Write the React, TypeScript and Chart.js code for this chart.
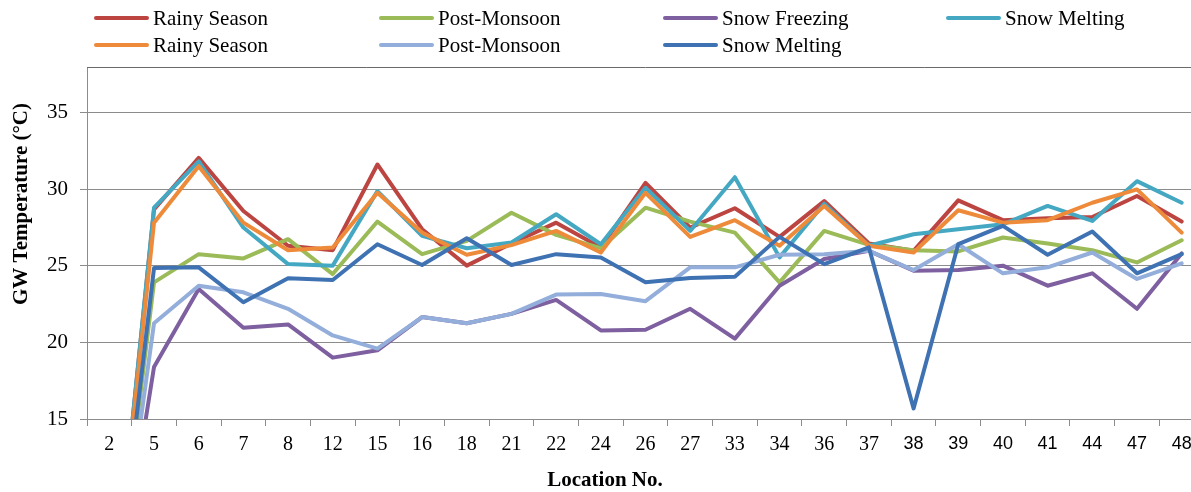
import React, { useEffect, useRef } from 'react';
import { Chart, registerables } from 'chart.js';

Chart.register(...registerables);

// Categories (location numbers)
const locations = ['2', '5', '6', '7', '8', '12', '15', '16', '18', '21', '22', '24', '26', '27', '33', '34', '36', '37', '38', '39', '40', '41', '44', '47', '48'];

// Series values (°C)
const rainySeasonA = [0, 28.7, 32.06, 28.59, 26.32, 26.03, 31.63, 27.4, 25.02, 26.47, 27.83, 26.21, 30.43, 27.51, 28.77, 26.9, 29.24, 26.47, 25.99, 29.29, 27.99, 28.12, 28.2, 29.57, 27.9];
const postMonsoonA = [0, 23.93, 25.77, 25.49, 26.75, 24.47, 27.9, 25.77, 26.64, 28.48, 27.03, 26.16, 28.81, 27.9, 27.18, 23.93, 27.29, 26.38, 26.03, 25.95, 26.86, 26.47, 26.03, 25.23, 26.68];
const snowFreezing = [0, 18.4, 23.5, 20.96, 21.18, 19.01, 19.49, 21.66, 21.26, 21.87, 22.78, 20.79, 20.83, 22.2, 20.25, 23.71, 25.45, 25.99, 24.69, 24.73, 25.02, 23.71, 24.52, 22.2, 25.82];
const snowMeltingA = [0, 28.81, 31.84, 27.51, 25.12, 25.02, 29.89, 26.97, 26.16, 26.53, 28.38, 26.42, 30.11, 27.29, 30.8, 25.56, 29.07, 26.32, 27.07, 27.4, 27.72, 28.92, 27.94, 30.54, 29.13];
const rainySeasonB = [0, 27.83, 31.52, 27.83, 26.03, 26.21, 29.78, 27.18, 25.73, 26.36, 27.29, 25.88, 29.78, 26.9, 27.99, 26.32, 28.92, 26.32, 25.88, 28.64, 27.83, 27.99, 29.13, 30.0, 27.18];
const postMonsoonB = [0, 21.26, 23.71, 23.28, 22.2, 20.46, 19.6, 21.66, 21.26, 21.87, 23.13, 23.17, 22.7, 24.91, 24.91, 25.73, 25.77, 25.99, 24.73, 26.42, 24.52, 24.91, 25.88, 24.15, 25.17];
const snowMeltingB = [0, 24.86, 24.91, 22.63, 24.19, 24.08, 26.42, 25.06, 26.81, 25.06, 25.77, 25.56, 23.93, 24.21, 24.3, 26.9, 25.12, 26.21, 15.69, 26.42, 27.62, 25.73, 27.25, 24.52, 25.77];

const seriesLabels = ['Rainy Season', 'Post-Monsoon', 'Snow Freezing', 'Snow Melting', 'Rainy Season', 'Post-Monsoon', 'Snow Melting'];
const seriesValues = [rainySeasonA, postMonsoonA, snowFreezing, snowMeltingA, rainySeasonB, postMonsoonB, snowMeltingB];
const seriesColors = ['#BC4541', '#9BBB59', '#7E5F9F', '#45A8C2', '#EE8B3B', '#93AEDA', '#3F72B2'];

const yTitle = 'GW Temperature (°C)';
const xTitle = 'Location No.';
const yMin = 15;
const yMax = 38;
const yStep = 5;

const SERIF = '"Liberation Serif", "Times New Roman", serif';
const SANS = '"Liberation Sans", Arial, sans-serif';

const overlayPlugin = {
  id: 'overlay',
  afterDraw(chart: any) {
    const { ctx, chartArea } = chart;
    ctx.save();
    // top border of the plot area
    ctx.strokeStyle = '#6a6a6a';
    ctx.lineWidth = 1;
    ctx.beginPath();
    ctx.moveTo(chartArea.left, chartArea.top + 0.5);
    ctx.lineTo(chartArea.right, chartArea.top + 0.5);
    ctx.stroke();

    // legend grid: 4 columns, 2 rows
    const colX = [94, 379, 663, 946];
    const rowY = [18, 45];
    ctx.font = `21px ${SERIF}`;
    ctx.textBaseline = 'middle';
    ctx.textAlign = 'left';
    chart.data.datasets.forEach((ds: any, i: number) => {
      const x = colX[i % 4];
      const y = rowY[Math.floor(i / 4)];
      ctx.strokeStyle = ds.borderColor;
      ctx.lineWidth = 4;
      ctx.lineCap = 'round';
      ctx.beginPath();
      ctx.moveTo(x + 2, y);
      ctx.lineTo(x + 53, y);
      ctx.stroke();
      ctx.fillStyle = '#000';
      ctx.fillText(ds.label, x + 59, y + 1);
    });

    // axis titles
    ctx.fillStyle = '#000';
    ctx.font = `bold 21px ${SERIF}`;
    ctx.textAlign = 'center';
    ctx.textBaseline = 'middle';
    ctx.fillText(xTitle, 605, 481);
    ctx.translate(22, 204);
    ctx.rotate(-Math.PI / 2);
    ctx.fillText(yTitle, 0, 0);
    ctx.restore();
  },
};

export default function App() {
  const ref = useRef<HTMLCanvasElement>(null);
  useEffect(() => {
    const chart = new Chart(ref.current as HTMLCanvasElement, {
      type: 'line',
      data: {
        labels: locations,
        datasets: seriesValues.map((vals, i) => ({
          label: seriesLabels[i],
          data: vals,
          borderColor: seriesColors[i],
          backgroundColor: seriesColors[i],
          borderWidth: 4,
          pointRadius: 0,
          pointHoverRadius: 0,
          tension: 0,
          fill: false,
          borderJoinStyle: 'round',
          borderCapStyle: 'round',
          order: seriesValues.length - i,
        })),
      },
      options: {
        animation: false,
        responsive: false,
        devicePixelRatio: 1,
        layout: { padding: { top: 67, left: 0, right: 0, bottom: 0 } },
        plugins: {
          legend: { display: false },
          tooltip: { enabled: false },
        },
        scales: {
          x: {
            offset: true,
            grid: {
              offset: true,
              drawOnChartArea: false,
              drawTicks: true,
              tickLength: 7,
              color: '#8c8c8c',
            },
            border: { display: true, color: '#8c8c8c' },
            ticks: {
              autoSkip: false,
              maxRotation: 0,
              color: '#000',
              padding: 7,
              font: (c: any) => (c.index >= 18 ? { family: SANS, size: 18 } : { family: SERIF, size: 20 }),
            },
            afterFit: (s: any) => {
              s.height = 73;
            },
          },
          y: {
            min: yMin,
            max: yMax,
            ticks: {
              stepSize: yStep,
              includeBounds: false,
              color: '#000',
              padding: 12,
              font: { family: SERIF, size: 21 },
            },
            grid: { color: '#8c8c8c', tickLength: 7, drawTicks: true },
            border: { display: true, color: '#8c8c8c' },
            afterFit: (s: any) => {
              s.width = 87;
            },
          },
        },
      },
      plugins: [overlayPlugin],
    });
    return () => chart.destroy();
  }, []);

  return (
    <div
      style={{
        position: 'fixed',
        left: 0,
        top: 0,
        width: 1191,
        height: 492,
        overflow: 'hidden',
        background: '#fff',
      }}
    >
      <canvas ref={ref} width={1204} height={492} style={{ display: 'block' }} />
    </div>
  );
}
